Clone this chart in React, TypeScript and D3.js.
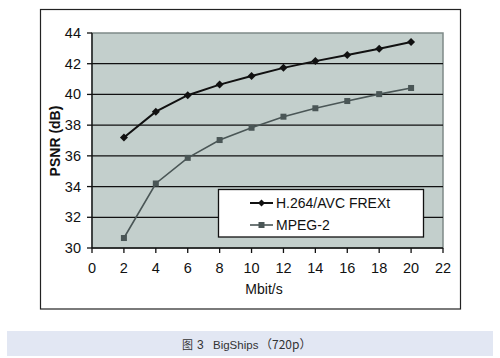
import React from "react";
import * as d3 from "d3";

const xValues = [2, 4, 6, 8, 10, 12, 14, 16, 18, 20];
const h264 = [37.2, 38.88, 39.95, 40.64, 41.2, 41.73, 42.17, 42.57, 42.98, 43.41];
const mpeg2 = [30.65, 34.2, 35.87, 37.03, 37.83, 38.55, 39.1, 39.57, 40.02, 40.42];
const xTicks = [0, 2, 4, 6, 8, 10, 12, 14, 16, 18, 20, 22];
const yTicks = [30, 32, 34, 36, 38, 40, 42, 44];
const seriesNames = ["H.264/AVC FREXt", "MPEG-2"];
const captionParts = ["图", "3", "BigShips", "（720p）"];

const W = 500, H = 358;
const L = 92, R = 443, T = 33, B = 248;

export default function App() {
  const x = d3.scaleLinear().domain([0, 22]).range([L, R]);
  const y = d3.scaleLinear().domain([30, 44]).range([B, T]);
  const line = d3.line<number>().x((_, i) => x(xValues[i])).y((d) => y(d));
  const font = "'Liberation Sans', Arial, sans-serif";
  const cjk = "'Noto Sans CJK SC', sans-serif";
  const c1 = "#111";
  const c2 = "#4a5656";
  const diamond = (cx: number, cy: number, s: number) =>
    `M${cx},${cy - s}L${cx + s},${cy}L${cx},${cy + s}L${cx - s},${cy}Z`;
  return (
    <svg width={W} height={H} style={{ position: "absolute", left: 0, top: 0, background: "#fff" }}>
      {/* outer frame */}
      <rect x={40.5} y={9.5} width={420} height={299.5} fill="#fff" stroke="#222" strokeWidth={1.2} />
      {/* plot area */}
      <rect x={L} y={T} width={R - L} height={B - T} fill="#c3cfcc" stroke="#7f8a88" strokeWidth={1.5} />
      {yTicks.filter((t) => t !== 30 && t !== 44).map((t) => (
        <line key={t} x1={L} x2={R} y1={y(t)} y2={y(t)} stroke="#111" strokeWidth={1.3} />
      ))}
      {/* axes */}
      <line x1={L} x2={L} y1={T} y2={B} stroke="#111" strokeWidth={1.3} />
      <line x1={L} x2={R} y1={B} y2={B} stroke="#111" strokeWidth={1.3} />
      {yTicks.map((t) => (
        <g key={t}>
          <line x1={L - 5} x2={L} y1={y(t)} y2={y(t)} stroke="#111" strokeWidth={1.3} />
          <text x={L - 11} y={y(t) + 5} textAnchor="end" fontFamily={font} fontSize={14.5} fill="#111">{t}</text>
        </g>
      ))}
      {xTicks.map((t) => (
        <g key={t}>
          <line x1={x(t)} x2={x(t)} y1={B} y2={B + 5} stroke="#111" strokeWidth={1.3} />
          <text x={x(t)} y={273} textAnchor="middle" fontFamily={font} fontSize={14.5} fill="#111">{t}</text>
        </g>
      ))}
      <text x={264} y={294} textAnchor="middle" fontFamily={font} fontSize={14} fill="#111">Mbit/s</text>
      <text transform={`translate(59.5,141) rotate(-90)`} textAnchor="middle" fontFamily={font} fontSize={14} fontWeight="bold" fill="#111">PSNR (dB)</text>
      {/* series */}
      <path d={line(mpeg2) || ""} fill="none" stroke={c2} strokeWidth={1.6} />
      {mpeg2.map((v, i) => (
        <rect key={i} x={x(xValues[i]) - 3} y={y(v) - 3} width={6} height={6} fill={c2} />
      ))}
      <path d={line(h264) || ""} fill="none" stroke={c1} strokeWidth={2} />
      {h264.map((v, i) => (
        <path key={i} d={diamond(x(xValues[i]), y(v), 4)} fill={c1} />
      ))}
      {/* legend */}
      <rect x={218.5} y={189.5} width={205} height={47.5} fill="#fff" stroke="#111" strokeWidth={1.3} />
      <line x1={250} x2={273} y1={203} y2={203} stroke={c1} strokeWidth={2} />
      <path d={diamond(261.5, 203, 3.5)} fill={c1} />
      <text x={276} y={208} fontFamily={font} fontSize={14} fill="#111">{seriesNames[0]}</text>
      <line x1={250} x2={273} y1={225} y2={225} stroke={c2} strokeWidth={1.6} />
      <rect x={258.5} y={222} width={6} height={6} fill={c2} />
      <text x={276} y={230} fontFamily={font} fontSize={14} fill="#111">{seriesNames[1]}</text>
      {/* caption band */}
      <rect x={7} y={331} width={486} height={25} fill="#e2e7f3" />
      <text x={182} y={349} fontFamily={cjk} fontSize={11} fill="#333">{captionParts[0]}</text>
      <text x={197} y={349} fontFamily={font} fontSize={12} fill="#333">{captionParts[1]}</text>
      <text x={213} y={349} fontFamily={font} fontSize={11.5} fill="#333">{captionParts[2]}</text>
      <text x={260} y={349} fontFamily={cjk} fontSize={12} fill="#333">{captionParts[3]}</text>
    </svg>
  );
}
